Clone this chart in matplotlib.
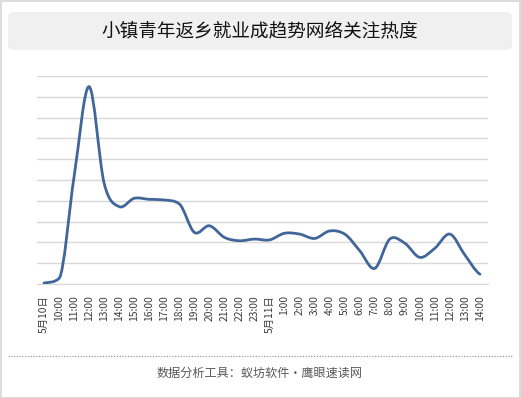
import numpy as np
import matplotlib
matplotlib.use('Agg')
import matplotlib.pyplot as plt
from matplotlib.path import Path
from matplotlib.patches import PathPatch, FancyBboxPatch, Rectangle
from matplotlib.lines import Line2D

plt.rcParams['font.family'] = ['Noto Sans CJK SC', 'DejaVu Sans']

# 时间点 (5月10日 9:00 起, 每小时一个)
labels = ['5月10日'] + ['%d:00' % h for h in range(10, 24)] + ['5月11日'] + ['%d:00' % h for h in range(1, 15)]
# 关注热度 (读图估计, 以网格为单位)
heat = [0.05, 0.27, 5.16, 9.49, 4.84, 3.72, 4.12, 4.07, 4.04, 3.85,
        2.48, 2.80, 2.24, 2.08, 2.16, 2.12, 2.44, 2.40, 2.19, 2.55,
        2.40, 1.60, 0.75, 2.16, 1.96, 1.28, 1.72, 2.40, 1.39, 0.47]

title = '小镇青年返乡就业成趋势网络关注热度'
footer = '数据分析工具：蚁坊软件・鹰眼速读网'


def smooth_path(xs, ys):
    # 平滑折线: 三次贝塞尔 (Catmull-Rom 切线, 单调段内限制过冲)
    n = len(xs)
    d = np.diff(ys)
    m = np.zeros(n)
    m[0], m[-1] = d[0] / 2, d[-1] / 2
    for i in range(1, n - 1):
        m[i] = (ys[i + 1] - ys[i - 1]) / 2
        if d[i - 1] * d[i] > 0:
            lim = 3 * min(abs(d[i - 1]), abs(d[i]))
            m[i] = np.sign(m[i]) * min(abs(m[i]), lim)
    verts = [(xs[0], ys[0])]
    codes = [Path.MOVETO]
    for i in range(n - 1):
        h = xs[i + 1] - xs[i]
        verts += [(xs[i] + h / 3, ys[i] + m[i] * h / 3),
                  (xs[i + 1] - h / 3, ys[i + 1] - m[i + 1] * h / 3),
                  (xs[i + 1], ys[i + 1])]
        codes += [Path.CURVE4] * 3
    return Path(verts, codes)


fig = plt.figure(figsize=(5.21, 3.98), dpi=100)

# 外框
fig.patches.append(Rectangle((0.001, 0.001), 0.997, 0.997, transform=fig.transFigure,
                             facecolor='none', edgecolor='#d6d6d6', lw=1.2))
# 标题背景
fig.patches.append(FancyBboxPatch((8 / 521, 1 - 50 / 398), 504 / 521, 38 / 398,
                                  boxstyle='round,pad=0,rounding_size=0.012',
                                  transform=fig.transFigure, facecolor='#f0f0f0',
                                  edgecolor='none'))
fig.text(260 / 521, 1 - 31 / 398, title, ha='center', va='center', fontsize=13.4, color='#111111')

ax = fig.add_axes([36.5 / 521, 114 / 398, 451 / 521, 208 / 398])
x = np.arange(len(heat), dtype=float)
ax.add_patch(PathPatch(smooth_path(x, np.array(heat)), facecolor='none', edgecolor='#41669a',
                       lw=2.0, capstyle='round', joinstyle='round', zorder=3))
ax.set_xlim(-0.5, len(heat) - 0.5)
ax.set_ylim(0, 10)
ax.set_yticks(np.arange(0, 11, 1))
ax.set_yticklabels([])
ax.grid(axis='y', color='#d9d9d9', lw=1)
ax.set_axisbelow(True)
ax.set_xticks(x)
ax.set_xticklabels(labels, rotation=90, fontsize=7.4, color='#3a3a3a', va='top')
ax.tick_params(axis='both', length=0, pad=8)
for s in ['top', 'right', 'left']:
    ax.spines[s].set_visible(False)
ax.spines['bottom'].set_color('#d9d9d9')

# 底部虚线和来源
fig.add_artist(Line2D([8 / 521, 513 / 521], [1 - 356 / 398] * 2, transform=fig.transFigure,
                      color='#888888', lw=0.8, linestyle=(0, (1, 1.5))))
fig.text(260 / 521, 1 - 373 / 398, footer, ha='center', va='center', fontsize=8.7, color='#595959')

fig.savefig('out.png', dpi=100)
